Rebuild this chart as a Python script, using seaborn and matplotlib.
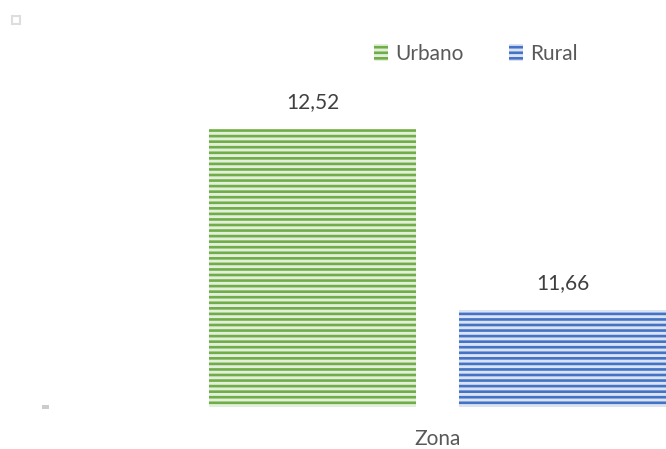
import seaborn as sns
import matplotlib.pyplot as plt
import matplotlib.patches as mpatches
import pandas as pd

# data
categoria = ["Zona", "Zona"]
grupos = ["Urbano", "Rural"]
valores = [12.52, 11.66]
etiquetas = ["12,52", "11,66"]
cores = ["#70AD47", "#4472C4"]
cores_claras = ["#E2EFDA", "#DAE3F3"]

df = pd.DataFrame({"zona": categoria, "grupo": grupos, "valor": valores})

sns.set_style("white")
plt.rcParams["font.family"] = ["Lato", "DejaVu Sans"]
plt.rcParams["hatch.linewidth"] = 1.9

fig = plt.figure(figsize=(6.66, 4.49), dpi=100)
ax = fig.add_axes([0, 42 / 449, 1, 357 / 449])

sns.barplot(data=df, x="zona", y="valor", hue="grupo", hue_order=grupos,
            palette=cores, width=0.8, gap=0.172, legend=False, ax=ax)

# striped fill like the original
for bar, c, cl in zip(ax.patches, cores, cores_claras):
    bar.set_facecolor(cl)
    bar.set_edgecolor(c)
    bar.set_hatch("---")
    bar.set_linewidth(0)

for cont, lab in zip(ax.containers, etiquetas):
    ax.bar_label(cont, labels=[lab], padding=12, fontsize=15, color="#404040")

ax.set_ylim(11.2, 11.2 + 357 / 210.5)
ax.set_xlim(-0.7, 0.3656)
sns.despine(ax=ax, left=True, bottom=True)
ax.set_yticks([])
ax.set_xlabel("")
ax.set_ylabel("")
ax.tick_params(axis="x", length=0, pad=16, labelsize=15, labelcolor="#595959")

handles = [mpatches.Patch(facecolor=cl, edgecolor=c, hatch="---", linewidth=0, label=g)
           for g, c, cl in zip(grupos, cores, cores_claras)]
leg = fig.legend(handles=handles, loc="center", bbox_to_anchor=(476 / 666, 1 - 54 / 449),
                 ncol=2, frameon=False, fontsize=15, handlelength=0.65, handleheight=0.85,
                 handletextpad=0.35, columnspacing=2.2)
for t in leg.get_texts():
    t.set_color("#595959")

# small grey handles seen in the original
fig.patches.append(mpatches.Rectangle((12 / 666, 1 - 24 / 449), 8 / 666, 8 / 449,
                                      transform=fig.transFigure, facecolor="white",
                                      edgecolor="#DDDDDD", linewidth=1.5))
fig.patches.append(mpatches.Rectangle((42 / 666, 1 - 409 / 449), 7 / 666, 4 / 449,
                                      transform=fig.transFigure, facecolor="#CCCCCC",
                                      edgecolor="none"))

fig.savefig("out.png", dpi=100)
